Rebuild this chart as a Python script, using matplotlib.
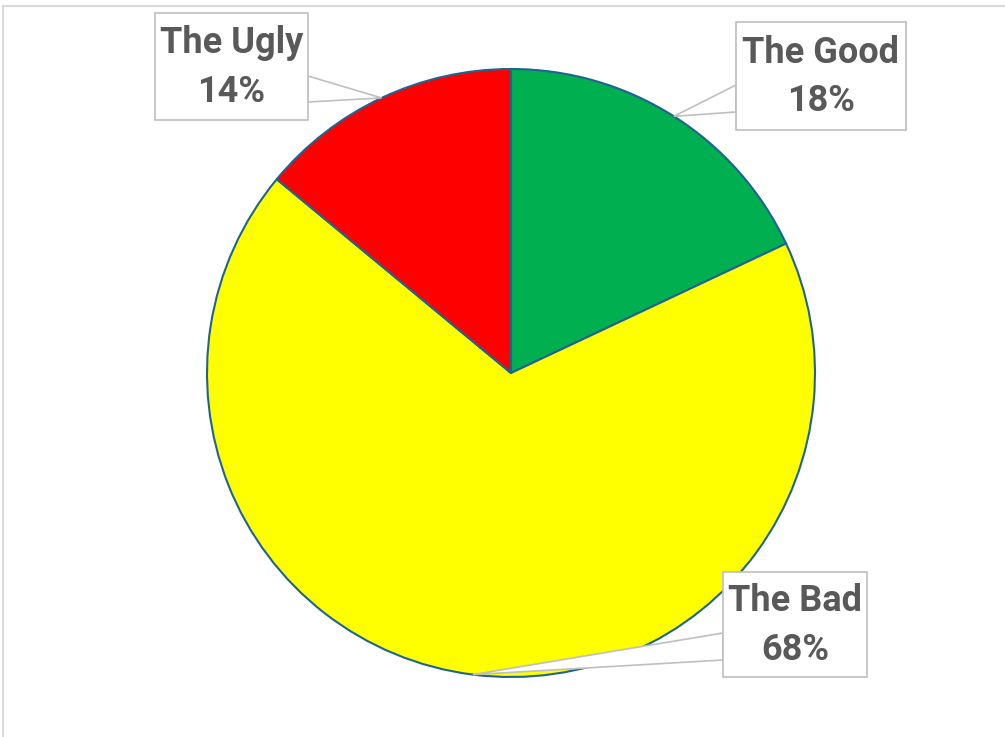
import matplotlib
matplotlib.use("Agg")
import matplotlib.pyplot as plt
import numpy as np
from matplotlib.patches import Rectangle, Polygon

labels = ["The Good", "The Bad", "The Ugly"]
values = [18, 68, 14]
colors = ["#00B050", "#FFFF00", "#FF0000"]

W, H = 1005, 737
fig = plt.figure(figsize=(W / 100, H / 100), dpi=100)
ax = fig.add_axes([0, 0, 1, 1])

def Y(y):
    return H - y

# chart area border
ax.add_patch(Rectangle((3, Y(800)), 1100, 800 - 6, fill=False,
                       edgecolor="#D9D9D9", linewidth=1.5, zorder=0))

cx, cy, r = 511, Y(373), 304
wedges, _ = ax.pie(values, colors=colors, startangle=90, counterclock=False,
                   center=(cx, cy), radius=r, frame=True,
                   wedgeprops=dict(edgecolor="#1F6391", linewidth=1.5))
ax.set_xlim(0, W)
ax.set_ylim(0, H)
ax.set_aspect("equal")
ax.axis("off")

# label boxes: (left, top, right, bottom) in pixels, leader attach ys, attach side
boxes = [
    (736, 22, 906, 130, (85, 112), "left"),
    (723, 572, 867, 677, (633, 660), "left"),
    (155, 13, 308, 120, (76, 102), "right"),
]

total = sum(values)
for w, lab, v, (l, t, rr, b, (ya, yb), side) in zip(wedges, labels, values, boxes):
    mid = np.deg2rad((w.theta1 + w.theta2) / 2)
    px, py = cx + r * np.cos(mid), cy + r * np.sin(mid)
    bx = l if side == "left" else rr
    ax.add_patch(Polygon([(bx, Y(ya)), (px, py), (bx, Y(yb))], closed=True,
                         facecolor="white", edgecolor="#BFBFBF", linewidth=1.2, zorder=5))
    ax.add_patch(Rectangle((l, Y(b)), rr - l, b - t, facecolor="white",
                           edgecolor="#BFBFBF", linewidth=1.2, zorder=6))
    pct = round(100 * v / total)
    ax.text((l + rr) / 2, Y((t + b) / 2 + 1), f"{lab}\n{pct}%", ha="center", va="center",
            fontsize=26, fontweight="bold", color="#595959", family="Roboto",
            linespacing=1.45, zorder=7)

fig.savefig("out.png", dpi=100)
